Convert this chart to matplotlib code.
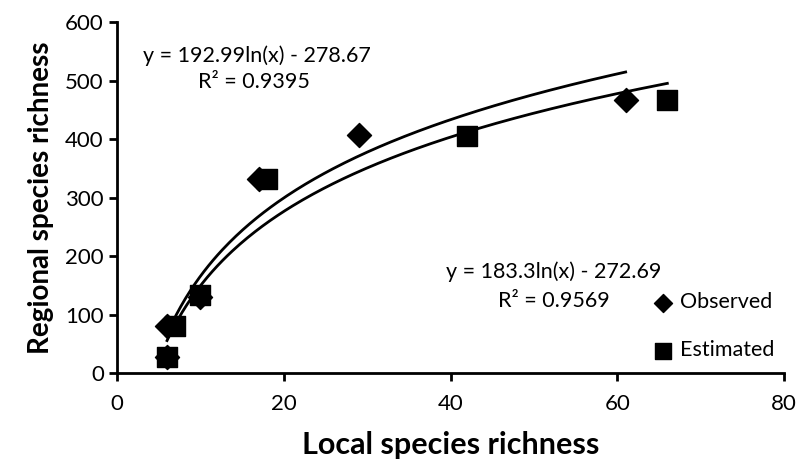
import numpy as np
import matplotlib.pyplot as plt

plt.rcParams['font.family'] = ['Lato', 'DejaVu Sans']

# observed and estimated species richness
obs_x = [6, 6, 10, 17, 29, 61]
obs_y = [28, 80, 130, 332, 407, 467]
est_x = [6, 7, 10, 18, 42, 66]
est_y = [27, 80, 133, 332, 406, 467]

# logarithmic trendline coefficients (a*ln(x) + b)
obs_fit = (192.99, -278.67)
est_fit = (183.3, -272.69)

fig = plt.figure(figsize=(7.96, 4.70), dpi=100)
ax = fig.add_axes([0.147, 0.206, 0.838, 0.747])

# trendlines
xo = np.linspace(min(obs_x), max(obs_x), 200)
ax.plot(xo, obs_fit[0] * np.log(xo) + obs_fit[1], color='black', lw=2, zorder=2)
xe = np.linspace(min(est_x), max(est_x), 200)
ax.plot(xe, est_fit[0] * np.log(xe) + est_fit[1], color='black', lw=2, zorder=2)

ax.scatter(obs_x, obs_y, marker='D', s=150, color='black', label='Observed', zorder=3)
ax.scatter(est_x, est_y, marker='s', s=220, color='black', label='Estimated', zorder=3)

ax.text(0.21, 0.905, 'y = 192.99ln(x) - 278.67', transform=ax.transAxes,
        ha='center', va='center', fontsize=15.5)
ax.text(0.205, 0.83, 'R² = 0.9395', transform=ax.transAxes,
        ha='center', va='center', fontsize=15.5)
ax.text(0.655, 0.29, 'y = 183.3ln(x) - 272.69', transform=ax.transAxes,
        ha='center', va='center', fontsize=15.5)
ax.text(0.655, 0.205, 'R² = 0.9569', transform=ax.transAxes,
        ha='center', va='center', fontsize=15.5)

ax.legend(loc='lower right', bbox_to_anchor=(1.005, 0.0), frameon=False, fontsize=15.5,
          handletextpad=-0.2, labelspacing=1.3, markerscale=0.75, borderaxespad=0.2)

ax.set_xlim(0, 80)
ax.set_ylim(0, 600)
ax.set_xticks([0, 20, 40, 60, 80])
ax.set_yticks([0, 100, 200, 300, 400, 500, 600])
ax.spines['top'].set_visible(False)
ax.spines['right'].set_visible(False)
ax.spines['left'].set_linewidth(2)
ax.spines['bottom'].set_linewidth(2)
ax.tick_params(axis='both', labelsize=16, width=2, length=6, direction='out')
ax.tick_params(axis='x', pad=9)

ax.set_xlabel('Local species richness', fontsize=22, fontweight='bold', labelpad=12)
ax.set_ylabel('Regional species richness', fontsize=20, fontweight='bold', labelpad=8)

fig.savefig('out.png', dpi=100)
